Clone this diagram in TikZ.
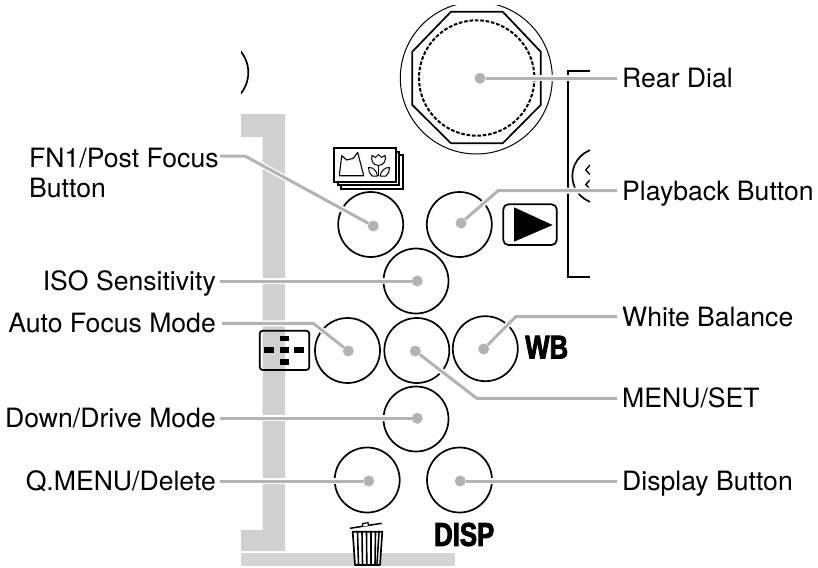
\documentclass[tikz,border=0pt]{standalone}
\usepackage{fontspec}
\setmainfont{TeX Gyre Heros}
\newfontfamily\heavyfont[FakeStretch=0.78,FakeBold=2.6]{Liberation Sans Bold}
\definecolor{barGray}{HTML}{D0D0D1}
\definecolor{leadGray}{HTML}{B2B3B5}
\tikzset{
  x=1pt,y=-1pt,
  btn/.style={circle,draw=black,line width=1.7pt,minimum size=65pt,inner sep=0pt,fill=none},
  dotmark/.style={circle,fill=leadGray,minimum size=11pt,inner sep=0pt},
  lead/.style={draw=leadGray,line width=3pt,preaction={draw=white,line width=6pt}},
  lblbase/.style={font=\fontsize{26.6}{30}\selectfont,inner sep=0pt,text height=19.2pt,text depth=0pt},
  lblL/.style={lblbase,anchor=east},
  lblR/.style={lblbase,anchor=west},
  ink/.style={draw=black,line width=1.7pt},
  inkthin/.style={draw=black,line width=1pt},
  heavy/.style={font=\fontsize{33}{33}\selectfont\heavyfont,inner sep=0pt},
}
\begin{document}
\begin{tikzpicture}
\useasboundingbox (0,0) rectangle (818,567);
% grey body
\fill[barGray] (241,114) -- (285,114) -- (285,551) -- (241,551) -- (241,530) -- (262.7,530) -- (262.7,137) -- (241,137) -- cycle;
\fill[barGray!92!white] (241,553.3) rectangle (455,566);
% clipped outlines
\begin{scope}
  \clip (241,40) rectangle (300,110);
  \draw[ink] (215.3,72.5) circle[radius=33];
\end{scope}
\begin{scope}
  \clip (560,60) rectangle (590,290);
  \draw[ink] (590,70.7) -- (568.3,70.7) -- (568.3,277) -- (590,277);
  \draw[ink] (600,176) circle[radius=27.7];
  \draw[inkthin,line width=1.3pt] (590,165) -- (585.7,170) -- (590,174.5);
  \draw[inkthin,line width=1.3pt] (590,180) -- (585.7,184.5) -- (590,189);
\end{scope}
% rear dial
\begin{scope}
  \clip (390,6) rectangle (560,170);
  \draw[inkthin] (476.3,78) circle[radius=76];
\end{scope}
\draw[ink] (451,11.7) -- (502.7,11.7) -- (540.7,51.7) -- (540.7,105) -- (502.7,143.3) -- (451,143.3) -- (412.3,105) -- (412.3,51.7) -- cycle;
\draw[ink,line width=2pt,dash pattern=on 3.6pt off 1.8pt] (476.7,78) circle[radius=57.7];
% buttons
\node[btn] (bFN) at (370.7,224.5) {};
\node[btn] (bPlay) at (459.3,224.5) {};
\node[btn] (bISO) at (416,281) {};
\node[btn] (bAF) at (347.5,350.5) {};
\node[btn] (bMenu) at (416.8,350.5) {};
\node[btn] (bWB) at (485.3,348.7) {};
\node[btn] (bDown) at (416,419) {};
\node[btn] (bQ) at (367.2,480) {};
\node[btn] (bDisp) at (459.5,480) {};
% stack icon
\draw[ink,fill=white] (341.3,155.3) rectangle (402.7,188.7);
\draw[ink,fill=white] (337.8,151.8) rectangle (399.2,185.2);
\draw[ink,fill=white] (334.3,148.3) rectangle (395.7,181.7);
\draw[inkthin,line width=1.1pt,line join=round] (339.3,175.7) -- (341.7,155.7) -- (346.7,160) -- (353.3,158.3) -- (357.7,152.3) -- (363.7,175.7) -- cycle;
\begin{scope}[inkthin,line width=1pt,line join=round]
  \draw (372,155.3) -- (375.5,157.5) -- (378.5,154.5) -- (381.5,157.5) -- (385,155.3) .. controls (386.5,160) and (384,165.5) .. (378.5,165.5) .. controls (373,165.5) and (370.5,160) .. (372,155.3) -- cycle;
  \draw (378.5,165.5) -- (378.5,176);
  \draw (368.5,167.5) .. controls (373,167) and (377,171) .. (377.5,176) -- (372,176) .. controls (369.5,174) and (368.5,171) .. (368.5,167.5) -- cycle;
  \draw (389.5,167.5) .. controls (385,167) and (381,171) .. (380,176) -- (386,176) .. controls (388.5,174) and (389.5,171) .. (389.5,167.5) -- cycle;
\end{scope}
% playback icon
\draw[ink,rounded corners=5pt] (503.3,204.3) rectangle (556.7,245);
\fill (514,207.3) -- (552.7,225) -- (514,241.7) -- cycle;
% AF icon
\draw[ink,rounded corners=3pt] (259.7,330.7) rectangle (309.3,370);
\foreach \px/\py in {284.3/338.3,284.3/350,284.3/362,269/350,299/350}
  \fill (\px-4.7,\py-2.6) rectangle (\px+4.7,\py+2.6);
% trash icon
\draw[draw=black,line width=1.7pt,fill=white,line join=round] (352.7,531.7) -- (382.3,531.7) -- (380,565) -- (355,565) -- cycle;
\foreach \tx/\bx in {357.5/358.5,362/362.5,366.5/366.8,371/371,375.5/375,379/377}
  \draw[black,line width=1.6pt] (\tx,532) -- (\bx,564.5);
\draw[black,line width=1.5pt] (350,528.3) -- (381.7,523.3);
\draw[black,line width=1.2pt,fill=white] (362.5,526.5) -- (362.8,523.5) -- (368,522.7) -- (368.5,525.5);
% bold labels
\node[heavy,anchor=center] (tWB) at (546.7,347.2) {WB};
\node[heavy,anchor=center] (tDISP) at (464.2,534.5) {DISP};
% leader dots
\node[dotmark] (dRear) at (480,78.3) {};
\node[dotmark] (dFN) at (373.3,226) {};
\node[dotmark] (dPlay) at (461,223) {};
\node[dotmark] (dISO) at (417.3,281) {};
\node[dotmark] (dAF) at (348.3,351) {};
\node[dotmark] (dMenu) at (415.3,351) {};
\node[dotmark] (dWB) at (483.7,349) {};
\node[dotmark] (dDown) at (417.3,418.3) {};
\node[dotmark] (dQ) at (368.7,481) {};
\node[dotmark] (dDisp) at (460.3,481) {};
% labels
\node[lblbase,anchor=north west,align=left,text height=,text depth=] (lFN) at (29,148) {FN1/Post Focus\\Button};
\coordinate (bendFN) at (245,156);
\node[lblL] (lISO) at (216,281) {ISO Sensitivity};
\node[lblL] (lAF) at (216,323.3) {Auto Focus Mode};
\node[lblL] (lDown) at (216,418.3) {Down/Drive Mode};
\node[lblL] (lQ) at (216,481) {Q.MENU/Delete};
\node[lblR] (lRear) at (622,78.3) {Rear Dial};
\node[lblR] (lPlay) at (622,190.5) {Playback Button};
\node[lblR] (lWB) at (622,316.7) {White Balance};
\node[lblR] (lMenu) at (622,398.3) {MENU/SET};
\node[lblR] (lDisp) at (622,481) {Display Button};
\coordinate (bendPlay) at (498.3,190.5);
\coordinate (bendAF) at (313.3,323.3);
\coordinate (bendWB) at (515.7,316.7);
\coordinate (bendMenu) at (476.7,398.3);
% leaders
\path[lead] ([xshift=1pt]lFN.east |- bendFN) -- (bendFN) -- (dFN);
\path[lead] ([xshift=-5pt]lPlay.west) -- (bendPlay) -- (dPlay);
\path[lead] ([xshift=-5pt]lRear.west) -- (dRear);
\path[lead] ([xshift=4pt]lISO.east) -- (dISO);
\path[lead] ([xshift=6pt]lAF.east) -- (bendAF) -- (dAF);
\path[lead] ([xshift=-5pt]lWB.west) -- (bendWB) -- (dWB);
\path[lead] ([xshift=-5pt]lMenu.west) -- (bendMenu) -- (dMenu);
\path[lead] ([xshift=4pt]lDown.east) -- (dDown);
\path[lead] ([xshift=4pt]lQ.east) -- (dQ);
\path[lead] ([xshift=-5pt]lDisp.west) -- (dDisp);
\end{tikzpicture}
\end{document}
